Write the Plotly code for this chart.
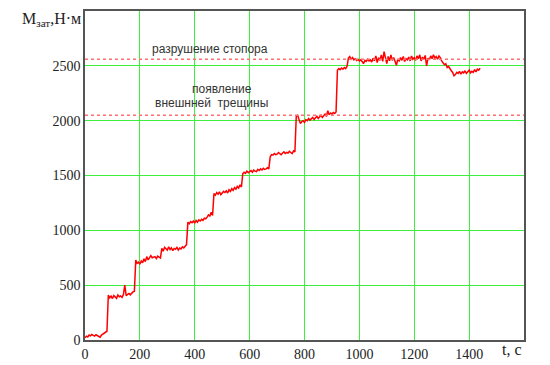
import plotly.graph_objects as go

# sample times, s (every 5 s)
t_values = list(range(0, 1445, 5))

# torque, N*m
seg_0_80 = [20, 35, 28, 45, 38, 50, 42, 36, 48, 40, 30, 25, 45, 55, 62, 75, 80]
seg_85_180 = [410, 385, 400, 378, 405, 392, 380, 410, 395, 402, 388, 415, 500,
              405, 418, 425, 412, 430, 438, 445]
seg_185_275 = [730, 700, 710, 690, 720, 705, 740, 715, 760, 730, 745, 770, 750,
               755, 760, 742, 765, 755, 748]
seg_280_370 = [835, 810, 845, 830, 820, 850, 825, 840, 815, 835, 828, 845, 820,
               838, 830, 850, 840, 855, 870]
seg_375_465 = [1075, 1060, 1080, 1070, 1085, 1065, 1090, 1075, 1095, 1085, 1100,
               1090, 1110, 1105, 1120, 1140, 1130, 1165, 1135]
seg_470_570 = [1335, 1320, 1345, 1330, 1350, 1325, 1340, 1355, 1345, 1360, 1340,
               1370, 1355, 1380, 1365, 1390, 1375, 1400, 1385, 1415, 1395]
seg_575_670 = [1515, 1530, 1520, 1540, 1525, 1535, 1545, 1530, 1550, 1540, 1535,
               1555, 1545, 1560, 1550, 1565, 1555, 1560, 1570, 1560]
seg_675_765 = [1670, 1690, 1685, 1700, 1690, 1695, 1710, 1700, 1690, 1705, 1715,
               1700, 1710, 1705, 1720, 1710, 1700, 1725, 1715]
seg_770_915 = [2040, 2050, 2010, 1975, 1990, 2000, 1985, 2010, 2000, 2020, 2005,
               2015, 2030, 2010, 2025, 2040, 2020, 2035, 2050, 2030, 2045, 2060,
               2040, 2090, 2055, 2070, 2060, 2075, 2065, 2080]
seg_920_955 = [2460, 2475, 2465, 2480, 2470, 2485, 2475, 2495]
seg_960_1285 = [2570, 2585, 2560, 2575, 2555, 2565, 2550, 2560, 2545, 2555, 2540,
                2520, 2550, 2540, 2560, 2545, 2555, 2535, 2570, 2545, 2590, 2530,
                2575, 2550, 2600, 2540, 2630, 2560, 2520, 2585, 2545, 2600, 2550,
                2575, 2530, 2505, 2560, 2545, 2575, 2550, 2585, 2540, 2565, 2555,
                2580, 2545, 2590, 2560, 2575, 2550, 2590, 2565, 2600, 2545, 2580,
                2560, 2595, 2500, 2570, 2555, 2590, 2565, 2600, 2570, 2585, 2560]
seg_1290_1440 = [2590, 2575, 2545, 2525, 2510, 2520, 2485, 2495, 2470, 2455,
                 2440, 2410, 2420, 2440, 2430, 2450, 2425, 2445, 2435, 2455,
                 2430, 2445, 2460, 2435, 2450, 2440, 2465, 2445, 2470, 2460, 2480]

m_values = (seg_0_80 + seg_85_180 + seg_185_275 + seg_280_370 + seg_375_465 +
            seg_470_570 + seg_575_670 + seg_675_765 + seg_770_915 + seg_920_955 +
            seg_960_1285 + seg_1290_1440)
assert len(m_values) == len(t_values)

# threshold levels
threshold_levels = [2560, 2050]

x_ticks = [0, 200, 400, 600, 800, 1000, 1200, 1400]
y_ticks = [0, 500, 1000, 1500, 2000, 2500]

fig = go.Figure()
fig.add_trace(go.Scatter(x=t_values, y=m_values, mode="lines",
                         line=dict(color="#ff0000", width=1.5),
                         showlegend=False, hoverinfo="skip"))
for lvl in threshold_levels:
    fig.add_trace(go.Scatter(x=[0, 1600], y=[lvl, lvl], mode="lines",
                             line=dict(color="#ff6f6f", width=1.5, dash="dot"),
                             showlegend=False, hoverinfo="skip"))

serif = "Liberation Serif, Times New Roman, serif"
sans = "Liberation Sans, Arial, sans-serif"

fig.update_layout(
    width=542, height=357,
    margin=dict(l=77, r=26, t=3, b=25, autoexpand=False),
    paper_bgcolor="white", plot_bgcolor="white",
    xaxis=dict(range=[0, 1600], tickvals=x_ticks, showgrid=True,
               gridcolor="#3ef03e", gridwidth=1, zeroline=False,
               showline=True, linecolor="#555555", linewidth=1.5, mirror=True,
               ticks="", tickfont=dict(family=serif, size=14, color="#222222")),
    yaxis=dict(range=[0, 3000], tickvals=y_ticks, showgrid=True,
               gridcolor="#3ef03e", gridwidth=1, zeroline=False,
               showline=True, linecolor="#555555", linewidth=1.5, mirror=True,
               ticks="", ticklen=4,
               tickfont=dict(family=serif, size=14, color="#222222")),
    annotations=[
        dict(text="M<sub>зат</sub>,Н·м", xref="paper", yref="paper",
             x=-0.148, y=0.975, xanchor="left", yanchor="middle",
             showarrow=False, font=dict(family=serif, size=16, color="#222222")),
        dict(text="t, c", xref="paper", yref="paper", x=1.0, y=-0.03,
             xanchor="right", yanchor="middle", showarrow=False,
             font=dict(family=serif, size=16, color="#222222")),
        dict(text="разрушение стопора", x=456, y=2650, xref="x", yref="y",
             showarrow=False, font=dict(family=sans, size=12, color="#333333")),
        dict(text="появление", x=499, y=2285, xref="x", yref="y",
             showarrow=False, font=dict(family=sans, size=12, color="#333333")),
        dict(text="внешнней\u00a0\u00a0трещины", x=462, y=2158, xref="x", yref="y",
             showarrow=False, font=dict(family=sans, size=12, color="#333333")),
    ],
)

fig.write_html("out.html")
